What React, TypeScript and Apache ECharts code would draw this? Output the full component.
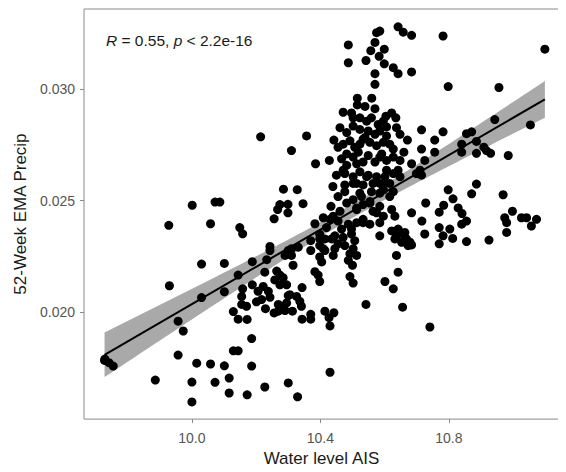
import React, { useEffect, useRef } from "react";
import * as echarts from "echarts";

// Water level AIS (x) and 52-Week EMA Precip (y)
const waterLevel = [
  9.729, 9.742, 9.755, 9.728, 9.886, 9.928, 9.930, 9.957, 9.973, 9.957,
  10.001, 10.000, 10.000, 10.015, 10.030, 10.030, 10.058, 10.058, 10.072, 10.087,
  10.072, 10.101, 10.101, 10.101, 10.116, 10.116, 10.129, 10.129, 10.144, 10.144,
  10.144, 10.149, 10.158, 10.155, 10.170, 10.172, 10.172, 10.158, 10.155, 10.186,
  10.186, 10.188, 10.188, 10.201, 10.206, 10.214, 10.217, 10.222, 10.227, 10.229,
  10.227, 10.233, 10.238, 10.243, 10.243, 10.243, 10.256, 10.264, 10.258, 10.256,
  10.267, 10.269, 10.269, 10.274, 10.274, 10.284, 10.285, 10.290, 10.290, 10.295,
  10.295, 10.299, 10.299, 10.300, 10.300, 10.310, 10.305, 10.313, 10.310, 10.315,
  10.326, 10.328, 10.329, 10.331, 10.336, 10.341, 10.343, 10.343, 10.346, 10.274,
  10.300, 10.310, 10.284, 10.357, 10.370, 10.370, 10.370, 10.370, 10.383, 10.385,
  10.383, 10.393, 10.398, 10.398, 10.398, 10.398, 10.404, 10.409, 10.414, 10.409,
  10.414, 10.427, 10.430, 10.442, 10.430, 10.428, 10.433, 10.440, 10.440, 10.445,
  10.455, 10.435, 10.442, 10.414, 10.419, 10.430, 10.455, 10.466, 10.487, 10.513,
  10.533, 10.554, 10.445, 10.471, 10.497, 10.507, 10.476, 10.502, 10.492, 10.487,
  10.585, 10.622, 10.642, 10.637, 10.658, 10.668, 10.653, 10.679, 10.673, 10.637,
  10.642, 10.492, 10.502, 10.500, 10.513, 10.601, 10.627, 10.542, 10.656, 10.741,
  10.632, 10.663, 10.684, 10.716, 10.725, 10.770, 10.770, 10.782, 10.812, 10.855,
  10.840, 10.855, 10.925, 10.980, 10.980, 11.042, 11.057, 11.073, 10.756, 10.840,
  10.886, 10.917, 10.930, 10.985, 10.725, 10.715, 10.886, 10.871, 10.969, 10.798,
  10.813, 10.728, 10.784, 10.770, 10.829, 10.841, 10.998, 10.974, 11.026, 10.642,
  10.658, 10.684, 10.782, 11.099, 10.575, 10.585, 10.570, 10.487, 10.557, 10.599,
  10.583, 10.542, 10.599, 10.627, 10.642, 10.487, 10.684, 10.570, 10.570, 10.798,
  10.956, 10.515, 10.515, 10.539, 10.570, 10.471, 10.497, 10.604, 10.622, 10.943,
  11.054, 10.715, 10.782, 10.756, 10.715, 10.671, 10.855, 10.871, 10.886, 10.840,
  10.909, 10.684, 10.699, 10.710, 10.642, 10.684, 10.803, 10.502, 10.544, 10.559,
  10.580, 10.596, 10.606, 10.637, 10.502, 10.523, 10.549, 10.570, 10.585, 10.606,
  10.648, 10.471, 10.492, 10.507, 10.523, 10.533, 10.554, 10.575, 10.596, 10.616,
  10.627, 10.466, 10.482, 10.502, 10.518, 10.533, 10.549, 10.570, 10.591, 10.606,
  10.627, 10.648, 10.450, 10.476, 10.502, 10.523, 10.549, 10.575, 10.601, 10.627,
  10.648, 10.476, 10.502, 10.533, 10.564, 10.596, 10.616, 10.476, 10.523, 10.559,
  10.596, 10.627, 10.455, 10.482, 10.502, 10.513, 10.528, 10.533, 10.554, 10.564,
  10.585, 10.622, 10.632, 10.596, 10.585, 10.398,
  10.455, 10.482, 10.513, 10.471, 10.544, 10.513, 10.585, 10.606, 10.585, 10.585,
  10.616, 10.554, 10.513, 10.461, 10.439, 10.533, 10.575, 10.497, 10.523, 10.482,
  10.560, 10.539, 10.635, 10.660, 10.461,
];

const emaPrecip = [
  0.01789, 0.01773, 0.01758, 0.01783, 0.01695, 0.02389, 0.02118, 0.01959, 0.01915, 0.01807,
  0.02479, 0.01686, 0.01597, 0.01771, 0.02215, 0.02065, 0.02396, 0.01767, 0.02493, 0.02493,
  0.01685, 0.02218, 0.02091, 0.01759, 0.01704, 0.01637, 0.02002, 0.01826, 0.01826, 0.02166,
  0.01968, 0.02379, 0.02351, 0.02034, 0.02026, 0.01967, 0.01629, 0.02104, 0.02070, 0.01758,
  0.01881, 0.02226, 0.02122, 0.02046, 0.02093, 0.02786, 0.02056, 0.02115, 0.01664, 0.02015,
  0.02179, 0.02235, 0.02093, 0.02294, 0.02276, 0.02066, 0.02418, 0.02184, 0.02144, 0.01996,
  0.02460, 0.02034, 0.02004, 0.02166, 0.02122, 0.02154, 0.02551, 0.02254, 0.02007, 0.02122,
  0.02041, 0.02483, 0.02445, 0.02276, 0.01682, 0.02724, 0.02078, 0.02004, 0.02254, 0.02210,
  0.02070, 0.02549, 0.01620, 0.02291, 0.02048, 0.02026, 0.01968, 0.02110, 0.02486, 0.02482,
  0.02074, 0.02284, 0.02026, 0.02790, 0.02276, 0.02320, 0.01990, 0.01968, 0.02396, 0.02665,
  0.02181, 0.02166, 0.02137, 0.02328, 0.02298, 0.02247, 0.02225, 0.02284, 0.02328, 0.02423,
  0.02004, 0.01975, 0.01938, 0.01997, 0.01730, 0.02680, 0.02474, 0.02430, 0.02254, 0.02284,
  0.02306, 0.02328, 0.02771, 0.02276, 0.02379, 0.02416, 0.02408, 0.02372, 0.02394, 0.02401,
  0.02416, 0.02394, 0.02342, 0.02335, 0.02350, 0.02320, 0.02298, 0.02284, 0.02262, 0.02232,
  0.02342, 0.02364, 0.02372, 0.02342, 0.02350, 0.02328, 0.02313, 0.02313, 0.02298, 0.02254,
  0.02179, 0.02159, 0.02130, 0.02210, 0.02254, 0.02137, 0.02104, 0.02034, 0.02022, 0.01933,
  0.02328, 0.02357, 0.02301, 0.02408, 0.02350, 0.02379, 0.02306, 0.02342, 0.02330, 0.02316,
  0.02394, 0.02408, 0.02323, 0.02357, 0.02401, 0.02423, 0.02386, 0.02416, 0.02717, 0.02717,
  0.02712, 0.02724, 0.02712, 0.02702, 0.02680, 0.02614, 0.02574, 0.02530, 0.02526, 0.02548,
  0.02508, 0.02489, 0.02479, 0.02448, 0.02467, 0.02442, 0.02452, 0.02423, 0.02423, 0.03279,
  0.03255, 0.03241, 0.03238, 0.03179, 0.03253, 0.03260, 0.03209, 0.03198, 0.03172, 0.03179,
  0.03147, 0.03128, 0.03113, 0.03096, 0.03069, 0.03118, 0.03077, 0.03069, 0.03021, 0.03011,
  0.03007, 0.02959, 0.02929, 0.02922, 0.02912, 0.02896, 0.02893, 0.02878, 0.02893, 0.02863,
  0.02839, 0.02817, 0.02808, 0.02771, 0.02731, 0.02771, 0.02800, 0.02808, 0.02765, 0.02753,
  0.02739, 0.02665, 0.02621, 0.02636, 0.02636, 0.02445, 0.02372, 0.02871, 0.02856, 0.02871,
  0.02841, 0.02856, 0.02830, 0.02827, 0.02834, 0.02819, 0.02812, 0.02797, 0.02812, 0.02790,
  0.02797, 0.02753, 0.02768, 0.02739, 0.02753, 0.02775, 0.02761, 0.02746, 0.02761, 0.02753,
  0.02731, 0.02687, 0.02658, 0.02695, 0.02717, 0.02673, 0.02702, 0.02673, 0.02709, 0.02680,
  0.02695, 0.02680, 0.02614, 0.02621, 0.02607, 0.02629, 0.02614, 0.02607, 0.02607, 0.02621,
  0.02607, 0.02570, 0.02577, 0.02570, 0.02577, 0.02570, 0.02577, 0.02540, 0.02533, 0.02540,
  0.02548, 0.02540, 0.02518, 0.02489, 0.02504, 0.02467, 0.02518, 0.02482, 0.02496, 0.02452,
  0.02474, 0.02460, 0.02430, 0.02430, 0.02401, 0.02349,
  0.02739, 0.02709, 0.02665, 0.02636, 0.02607, 0.02577, 0.02577, 0.02636, 0.02695, 0.02533,
  0.02518, 0.02489, 0.02460, 0.02452, 0.02563, 0.02401, 0.02445, 0.02372, 0.02871, 0.02805,
  0.02959, 0.02783, 0.02871, 0.02717, 0.02827,
];

const xTicks = [10.0, 10.4, 10.8];
const yTicks = [0.02, 0.025, 0.03];
const xTitle = "Water level AIS";
const yTitle = "52-Week EMA Precip";
const statLabel = "{i|R} = 0.55, {i|p} < 2.2e-16";

function linearFit(xs: number[], ys: number[]) {
  const n = Math.min(xs.length, ys.length);
  let sx = 0, sy = 0;
  for (let i = 0; i < n; i++) { sx += xs[i]; sy += ys[i]; }
  const mx = sx / n, my = sy / n;
  let sxx = 0, sxy = 0;
  for (let i = 0; i < n; i++) { sxx += (xs[i] - mx) ** 2; sxy += (xs[i] - mx) * (ys[i] - my); }
  const b = sxy / sxx;
  const a = my - b * mx;
  let sse = 0;
  for (let i = 0; i < n; i++) sse += (ys[i] - (a + b * xs[i])) ** 2;
  const s = Math.sqrt(sse / (n - 2));
  return { a, b, s, n, mx, sxx };
}

export default function App() {
  const ref = useRef<HTMLDivElement>(null);
  useEffect(() => {
    if (!ref.current) return;
    const chart = echarts.init(ref.current, null, { renderer: "svg" });
    const n = Math.min(waterLevel.length, emaPrecip.length);
    const pts = [] as number[][];
    for (let i = 0; i < n; i++) pts.push([waterLevel[i], emaPrecip[i]]);
    const fit = linearFit(waterLevel.slice(0, n), emaPrecip.slice(0, n));
    const xMin = Math.min(...waterLevel.slice(0, n));
    const xMax = Math.max(...waterLevel.slice(0, n));
    const steps = 80;
    const bandX: number[] = [], bandLo: number[] = [], bandHi: number[] = [];
    const t = 1.968;
    for (let k = 0; k <= steps; k++) {
      const x = xMin + ((xMax - xMin) * k) / steps;
      const yh = fit.a + fit.b * x;
      const se = fit.s * Math.sqrt(1 / fit.n + (x - fit.mx) ** 2 / fit.sxx);
      bandX.push(x); bandLo.push(yh - t * se); bandHi.push(yh + t * se);
    }
    const font = "'Liberation Sans', Arial, Helvetica, sans-serif";
    chart.setOption({
      animation: false,
      grid: { left: 84, right: 7, top: 9, bottom: 45, show: true, borderColor: "#8a8a8a", borderWidth: 1, backgroundColor: "transparent" },
      xAxis: {
        type: "value", min: 9.664, max: 11.143,
        name: xTitle, nameLocation: "middle", nameGap: 30,
        nameTextStyle: { fontSize: 17, color: "#1a1a1a", fontFamily: font },
        axisLine: { show: false },
        splitLine: { show: false },
        axisTick: { show: true, length: 4, lineStyle: { color: "#8a8a8a" }, customValues: xTicks },
        axisLabel: { color: "#555", fontSize: 14, fontFamily: font, margin: 12, customValues: xTicks, formatter: (v: number) => v.toFixed(1) },
      },
      yAxis: {
        type: "value", min: 0.0152, max: 0.03359,
        name: yTitle, nameLocation: "middle", nameGap: 50, nameRotate: 90,
        nameTextStyle: { fontSize: 17, color: "#1a1a1a", fontFamily: font },
        axisLine: { show: false },
        splitLine: { show: false },
        axisTick: { show: true, length: 4, lineStyle: { color: "#8a8a8a" }, customValues: yTicks },
        axisLabel: { color: "#555", fontSize: 14, fontFamily: font, margin: 9, customValues: yTicks, formatter: (v: number) => v.toFixed(3) },
      },
      graphic: [
        {
          type: "text", left: 106, top: 32,
          style: {
            text: statLabel, fontSize: 15.5, fontFamily: font, fill: "#1a1a1a",
            rich: { i: { fontStyle: "italic", fontSize: 15.5, fontFamily: font, fill: "#1a1a1a" } },
          },
        },
      ],
      series: [
        {
          type: "custom", silent: true, z: 1, clip: true,
          data: [[bandX[0], bandLo[0]]],
          renderItem: (_p: any, api: any) => {
            const poly: number[][] = [];
            for (let k = 0; k < bandX.length; k++) poly.push(api.coord([bandX[k], bandHi[k]]));
            for (let k = bandX.length - 1; k >= 0; k--) poly.push(api.coord([bandX[k], bandLo[k]]));
            return { type: "polygon", shape: { points: poly }, style: { fill: "#a9a9a9" } };
          },
        },
        {
          type: "scatter", data: pts, symbolSize: 9, z: 2,
          itemStyle: { color: "#000", opacity: 1 },
        },
        {
          type: "line", z: 3, symbol: "none",
          data: [[xMin, fit.a + fit.b * xMin], [xMax, fit.a + fit.b * xMax]],
          lineStyle: { color: "#000", width: 2 },
        },
      ],
    });
    return () => chart.dispose();
  }, []);
  return <div ref={ref} style={{ width: 566, height: 472, margin: -8 }} />;
}
